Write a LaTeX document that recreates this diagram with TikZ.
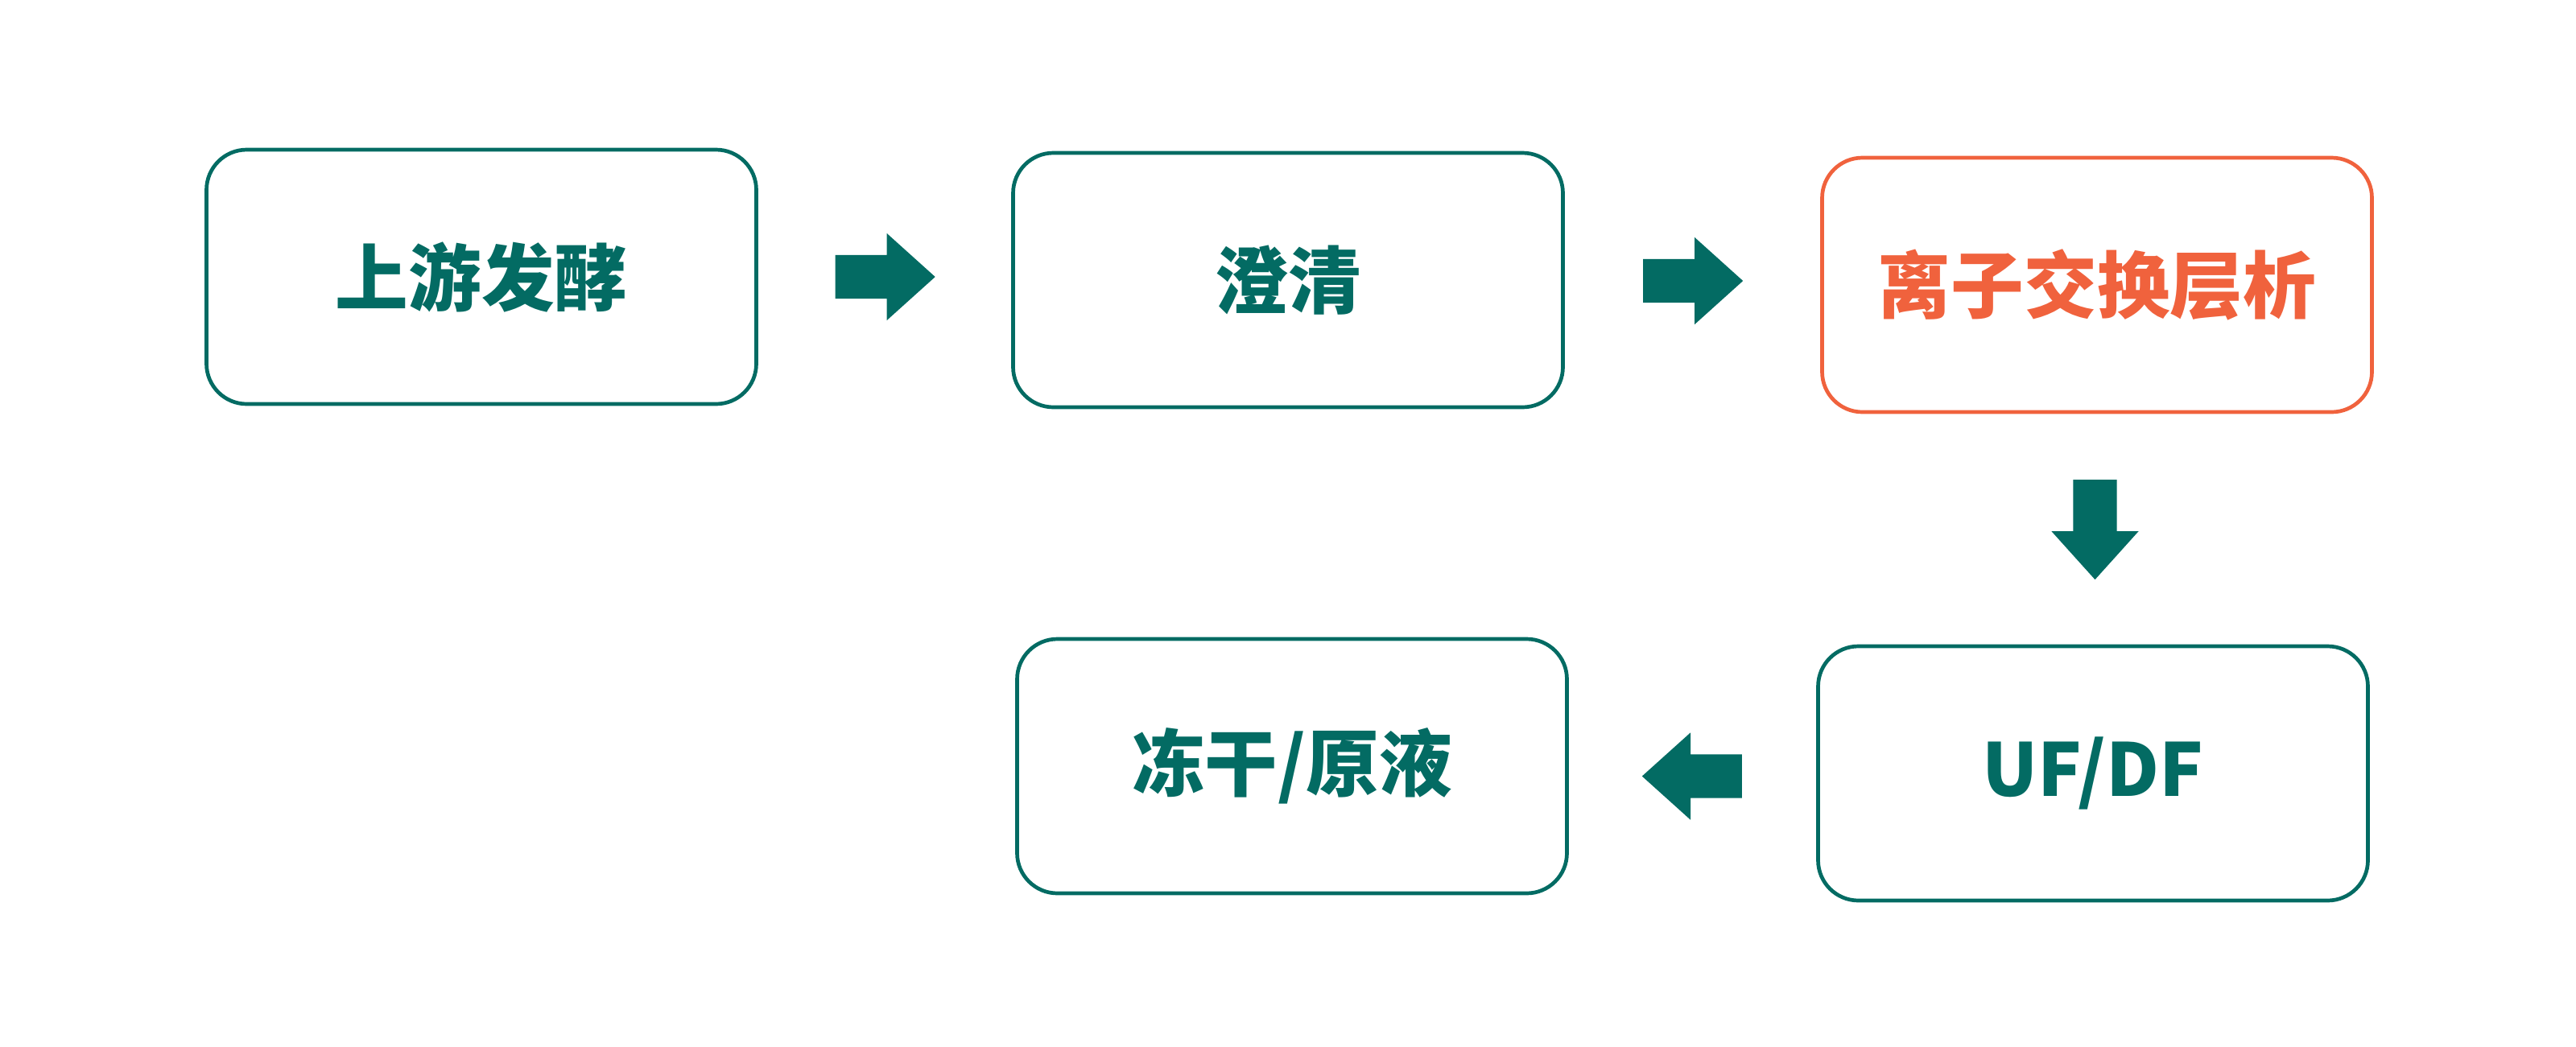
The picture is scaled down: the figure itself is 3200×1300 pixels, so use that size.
\documentclass[tikz,border=0pt]{standalone}
\usepackage{fontspec}
\newfontfamily\cjk{Noto Sans CJK SC}
\usetikzlibrary{shapes.arrows,calc}
\definecolor{stepgreen}{HTML}{036B63}
\definecolor{steporange}{HTML}{F0623D}
\begin{document}
\begin{tikzpicture}[x=0.1mm,y=-0.1mm,
  stage/.style={draw=stepgreen,line width=0.47mm,rounded corners=5mm,
    minimum width=68.3mm,minimum height=31.6mm,text=stepgreen,
    font=\cjk\bfseries\fontsize{25.8pt}{30pt}\selectfont},
  hot/.style={draw=steporange,text=steporange},
  flow/.style={single arrow,fill=stepgreen,draw=none,inner sep=2.65mm,
    minimum height=12.4mm,anchor=tail,
    single arrow head extend=2.7mm,single arrow tip angle=84}]
\useasboundingbox (0,0) rectangle (3200,1300);
\node[stage] (ferm) at (598,344) {上游发酵};
\node[stage] (clar) at (1600,348) {澄清};
\node[stage,hot] (iex) at (2605,354) {离子交换层析};
\node[stage] (ufdf) at (2600,961) {UF/DF};
\node[stage] (fill) at (1605,952) {冻干/原液};
\node[flow] (a1) at ($(ferm.east)!0.5!(clar.west)+(-62,-2)$) {};
\node[flow] (a2) at ($(clar.east)!0.5!(iex.west)+(-62,-2)$) {};
\node[flow,rotate=-90] (a3) at ($(iex.south)!0.5!(ufdf.north)+(0,-62)$) {};
\node[flow,rotate=180] (a4) at ($(ufdf.west)!0.5!(fill.east)+(62,8)$) {};
\end{tikzpicture}
\end{document}
